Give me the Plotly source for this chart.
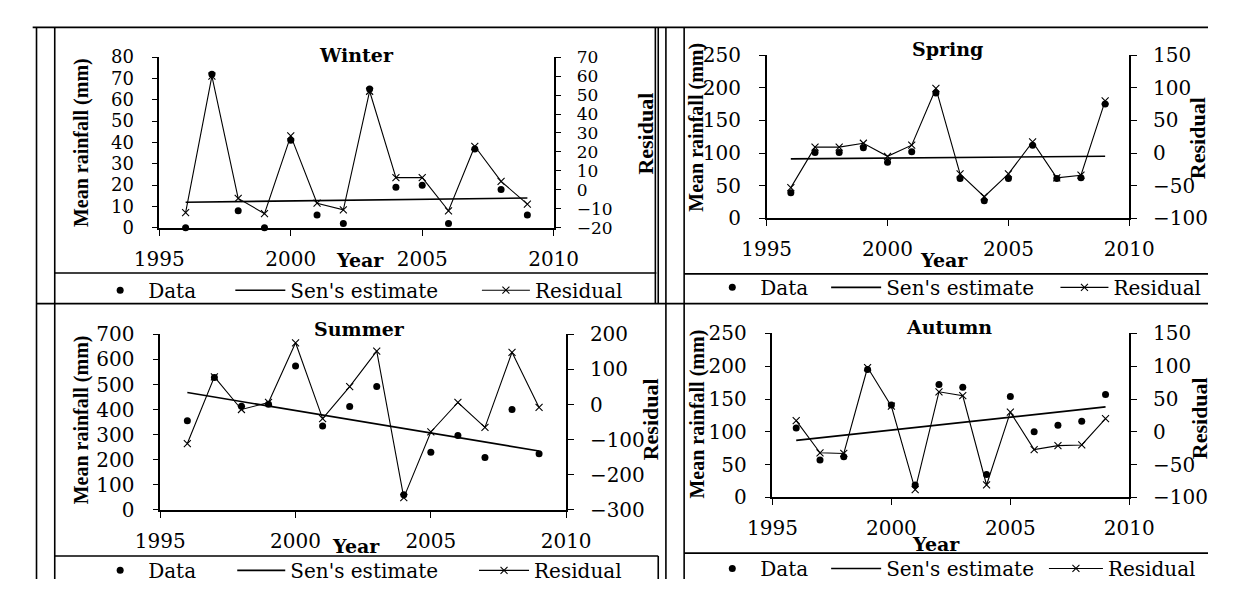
import plotly.graph_objects as go

# ---- data -----------------------------------------------------------------
years = [1996, 1997, 1998, 1999, 2000, 2001, 2002, 2003, 2004, 2005, 2006, 2007, 2008, 2009]
sen_years = [1996, 2009]

winter_data = [0, 72, 8, 0, 41, 6, 2, 65, 19, 20, 2, 37, 18, 6]
winter_resid = [-12, 60, -4.5, -12.5, 28.5, -7, -10.5, 52, 6.5, 6.5, -11, 23, 4.5, -7.5]
winter_sen = [12, 14]

spring_data = [39, 101, 101, 108, 86, 102, 192, 61, 27, 61, 112, 61, 62, 175]
spring_resid = [-53, 9, 9, 15, -5, 12, 99, -32, -67, -32, 17, -38, -34, 80]
spring_sen = [91, 95]

summer_data = [356, 528, 413, 421, 574, 335, 412, 492, 61, 230, 297, 209, 400, 224]
summer_resid = [-111, 79, -14, 6, 176, -40, 51, 152, -265, -78, 6, -65, 149, -8]
summer_sen = [468, 235]

autumn_data = [106, 57, 62, 195, 141, 19, 172, 168, 35, 154, 100, 110, 116, 157]
autumn_resid = [17, -32, -33, 98, 39, -88, 61, 55, -81, 30, -27, -21, -20, 20]
autumn_sen = [87, 138]

season_names = ["Winter", "Spring", "Summer", "Autumn"]
left_ranges = [(0, 80, 10), (0, 250, 50), (0, 700, 100), (0, 250, 50)]
right_ranges = [(-20, 70, 10), (-100, 150, 50), (-300, 200, 100), (-100, 150, 50)]
legend_labels = ["Data", "Sen's estimate", "Residual"]

# ---- page geometry (pixels) ----------------------------------------------
W, H = 1233, 591


def fx(px):
    return px / W


def fy(py):
    return 1 - py / H


# plot-area corners: x of 1995, x of 2010, y of top tick, y of baseline
panels = [
    dict(x0=140, x1=551, ytop=47, ybot=225, fs=(18, 17),
         title=(345, 45), year=(349, 258), ylab=(59, 136), rlab=(647, 127),
         legend=[(70, 46), (214, 50), (471, 48)], legy=290),
    dict(x0=773, x1=1151, ytop=45, ybot=215, fs=(20, 20),
         title=(962, 39), year=(958, 258), ylab=(700, 120), rlab=(1222, 131),
         legend=[(708, 46), (835, 50), (1074, 48)], legy=287),
    dict(x0=141, x1=564, ytop=336, ybot=519, fs=(20, 20),
         title=(349, 330), year=(345, 557), ylab=(59, 425), rlab=(652, 425),
         legend=[(70, 46), (216, 48), (468, 50)], legy=582),
    dict(x0=779, x1=1151, ytop=335, ybot=506, fs=(20, 20),
         title=(963, 328), year=(950, 555), ylab=(701, 419), rlab=(1224, 423),
         legend=[(708, 46), (835, 50), (1062, 54)], legy=580),
]

series = [
    (winter_data, winter_sen, winter_resid),
    (spring_data, spring_sen, spring_resid),
    (summer_data, summer_sen, summer_resid),
    (autumn_data, autumn_sen, autumn_resid),
]

SERIF = "DejaVu Serif"
LEG_FONT = dict(family=SERIF, size=20, color="black")
TITLE_FONT = dict(family=SERIF, size=19, color="black", weight="bold")
AXTITLE_FONT = dict(family="Liberation Serif", size=20, color="black", weight="bold")

fig = go.Figure()
layout = dict(
    width=W, height=H, autosize=False,
    margin=dict(l=0, r=0, t=0, b=0),
    paper_bgcolor="white", plot_bgcolor="rgba(0,0,0,0)",
    showlegend=True,
    annotations=[], shapes=[],
)

legend_no = 0
for i, (p, (data, sen, resid)) in enumerate(zip(panels, series)):
    xid = "x" if i == 0 else f"x{i + 1}"
    yl = 2 * i + 1
    yr = 2 * i + 2
    ylid = "y" if yl == 1 else f"y{yl}"
    yrid = f"y{yr}"

    leg_ids = []
    for k in range(3):
        legend_no += 1
        lid = "legend" if legend_no == 1 else f"legend{legend_no}"
        leg_ids.append(lid)
        lx, iw = p["legend"][k]
        layout[lid] = dict(
            x=fx(lx), y=fy(p["legy"]), xanchor="left", yanchor="middle",
            orientation="h", itemwidth=iw, font=LEG_FONT,
            bgcolor="rgba(0,0,0,0)", borderwidth=0,
            itemclick=False, itemdoubleclick=False,
        )

    # observed seasonal rainfall
    fig.add_trace(go.Scatter(
        x=years, y=data, mode="markers", name=legend_labels[0],
        marker=dict(symbol="circle", size=7, color="black"),
        xaxis=xid, yaxis=ylid, legend=leg_ids[0], cliponaxis=False,
    ))
    # Sen's slope trend line
    fig.add_trace(go.Scatter(
        x=sen_years, y=sen, mode="lines", name=legend_labels[1],
        line=dict(color="black", width=1.6),
        xaxis=xid, yaxis=ylid, legend=leg_ids[1],
    ))
    # residuals on the secondary axis
    fig.add_trace(go.Scatter(
        x=years, y=resid, mode="lines+markers", name=legend_labels[2],
        line=dict(color="black", width=1.1),
        marker=dict(symbol="x-thin", size=7, color="black",
                    line=dict(color="black", width=1.1)),
        xaxis=xid, yaxis=yrid, legend=leg_ids[2], cliponaxis=False,
    ))

    common = dict(showline=True, linecolor="black", linewidth=1.5,
                  ticks="outside", ticklen=6, tickwidth=1.3, tickcolor="black",
                  showgrid=False, zeroline=False)
    layout[f"xaxis{'' if i == 0 else i + 1}"] = dict(
        domain=[fx(p["x0"]), fx(p["x1"])], anchor=ylid,
        range=[1995, 2010], tick0=1995, dtick=5, ticklabelstandoff=6,
        tickfont=dict(family=SERIF, size=20, color="black"), **common)
    lo, hi, step = left_ranges[i]
    layout[f"yaxis{'' if yl == 1 else yl}"] = dict(
        domain=[fy(p["ybot"]), fy(p["ytop"])], anchor=xid,
        range=[lo, hi], tick0=lo, dtick=step, ticklabelstandoff=14,
        tickfont=dict(family=SERIF, size=p["fs"][0], color="black"), **common)
    lo, hi, step = right_ranges[i]
    layout[f"yaxis{yr}"] = dict(
        overlaying=ylid, side="right", anchor=xid,
        range=[lo, hi], tick0=lo, dtick=step, ticklabelstandoff=12,
        tickfont=dict(family=SERIF, size=p["fs"][1], color="black"), **common)

    ann = layout["annotations"]
    ann.append(dict(text=season_names[i], x=fx(p["title"][0]), y=fy(p["title"][1]),
                    xref="paper", yref="paper", showarrow=False, font=TITLE_FONT,
                    xanchor="center", yanchor="middle"))
    ann.append(dict(text="Year", x=fx(p["year"][0]), y=fy(p["year"][1]),
                    xref="paper", yref="paper", showarrow=False, font=TITLE_FONT,
                    xanchor="center", yanchor="middle"))
    ann.append(dict(text="Mean rainfall (mm)", x=fx(p["ylab"][0]), y=fy(p["ylab"][1]),
                    xref="paper", yref="paper", showarrow=False, font=AXTITLE_FONT,
                    textangle=-90, xanchor="center", yanchor="middle"))
    ann.append(dict(text="Residual", x=fx(p["rlab"][0]), y=fy(p["rlab"][1]),
                    xref="paper", yref="paper", showarrow=False,
                    font=dict(AXTITLE_FONT, size=22),
                    textangle=-90, xanchor="center", yanchor="middle"))

# ---- frame lines around the four panels -----------------------------------
frame = [
    # horizontal rules: (y, x_start, x_end)
    ("h", 16, 8, 1233), ("h", 272, 31, 658), ("h", 273, 687, 1233),
    ("h", 304, 12, 1233), ("h", 567, 31, 660), ("h", 564, 687, 1233),
    # vertical rules: (x, y_start, y_end)
    ("v", 12, 16, 591), ("v", 31, 16, 591), ("v", 657, 16, 304),
    ("v", 660, 16, 304), ("v", 660, 567, 591), ("v", 668, 16, 591),
    ("v", 687, 16, 591),
]
for kind, a, b, c in frame:
    if kind == "h":
        shp = dict(x0=fx(b), x1=fx(c), y0=fy(a), y1=fy(a))
    else:
        shp = dict(x0=fx(a), x1=fx(a), y0=fy(b), y1=fy(c))
    layout["shapes"].append(dict(type="line", xref="paper", yref="paper",
                                 line=dict(color="black", width=1.6), **shp))

fig.update_layout(**layout)
fig.write_html("out.html")
